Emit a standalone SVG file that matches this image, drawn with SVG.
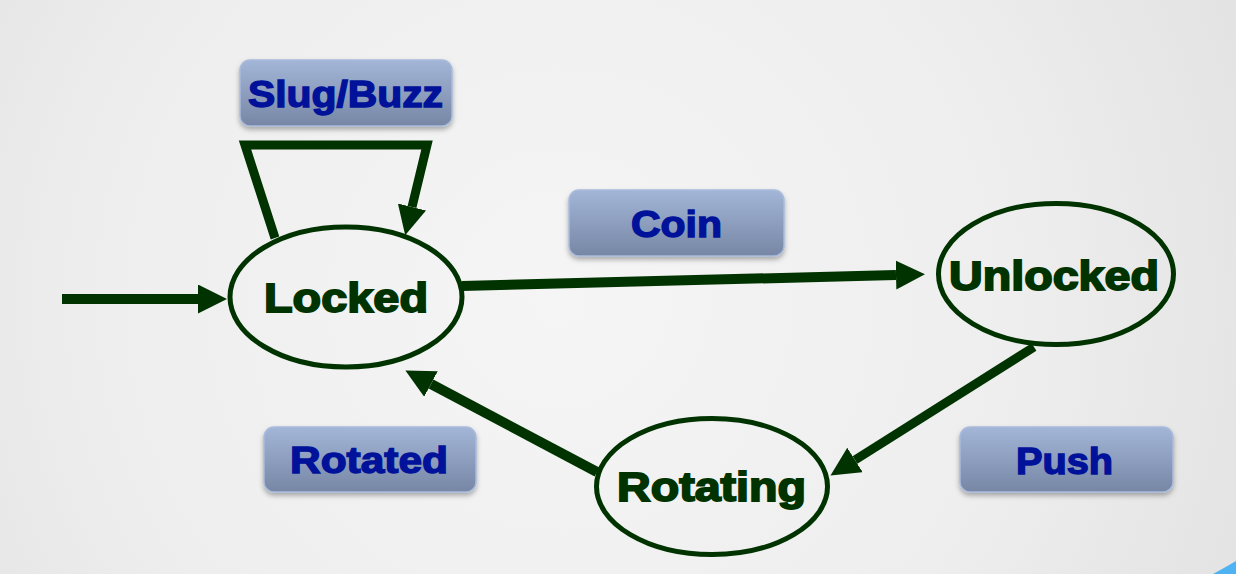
<svg xmlns="http://www.w3.org/2000/svg" width="1236" height="574" viewBox="0 0 1236 574">
<defs>
<radialGradient id="bg" cx="560" cy="300" r="760" gradientUnits="userSpaceOnUse">
<stop offset="0" stop-color="#f5f5f5"/>
<stop offset="0.6" stop-color="#eeeeee"/>
<stop offset="1" stop-color="#e2e2e2"/>
</radialGradient>
<linearGradient id="box" x1="0" y1="0" x2="0" y2="1">
<stop offset="0" stop-color="#a3b6d7"/>
<stop offset="1" stop-color="#7786a5"/>
</linearGradient>
<filter id="sh" x="-10%" y="-20%" width="120%" height="150%">
<feDropShadow dx="0" dy="3" stdDeviation="2.5" flood-color="#000" flood-opacity="0.3"/>
</filter>
<marker id="ah" markerUnits="userSpaceOnUse" markerWidth="30" markerHeight="30" refX="0" refY="14.5" orient="auto" viewBox="0 0 30 30">
<path d="M0,0 L29,14.5 L0,29 Z" fill="#003300"/>
</marker>
</defs>
<style>
.st{fill:none;stroke:#003300;stroke-width:5}
.ed{fill:none;stroke:#003300;stroke-linejoin:miter;stroke-miterlimit:10}
.bx{fill:url(#box);stroke:#a9bbdb;stroke-width:1.5;filter:url(#sh)}
.lb{font-family:"Liberation Sans",Arial,sans-serif;font-weight:bold;font-size:37px;fill:#00129a;stroke:#00129a;stroke-width:1.4;text-anchor:middle}
.nt{font-family:"Liberation Sans",Arial,sans-serif;font-weight:bold;font-size:40px;fill:#003300;stroke:#003300;stroke-width:1.8;text-anchor:middle}
</style>
<rect x="0" y="0" width="1236" height="574" fill="url(#bg)"/>
<path d="M1213,574 Q1226,567 1236,561 L1236,574 Z" fill="#4fb2f2"/>

<g id="connectors">
<path class="ed" stroke-width="10" d="M62,299 L198,299" marker-end="url(#ah)"/>
<path class="ed" stroke-width="10" d="M462,286 L896,275" marker-end="url(#ah)"/>
<path class="ed" stroke-width="9" d="M1034,347 L855,460" marker-end="url(#ah)"/>
<path class="ed" stroke-width="10" d="M597,472 L431,384" marker-end="url(#ah)"/>
<path class="ed" stroke-width="9" d="M275,238 L245,145 L427,145 L412,207" marker-end="url(#ah)"/>
</g>

<g id="locked">
<ellipse class="st" cx="346" cy="297" rx="116" ry="70"/>
<text class="nt" x="346" y="312" textLength="164" lengthAdjust="spacingAndGlyphs">Locked</text>
</g>
<g id="unlocked">
<ellipse class="st" cx="1056" cy="274" rx="117.5" ry="70.5"/>
<text class="nt" x="1054" y="290" font-size="43" textLength="210" lengthAdjust="spacingAndGlyphs">Unlocked</text>
</g>
<g id="rotating">
<ellipse class="st" cx="712" cy="486.5" rx="115.5" ry="68"/>
<text class="nt" x="711.5" y="501" textLength="189" lengthAdjust="spacingAndGlyphs">Rotating</text>
</g>

<g id="label-slugbuzz">
<rect class="bx" x="240" y="60" width="212" height="66" rx="10"/>
<text class="lb" x="345.5" y="107" textLength="195" lengthAdjust="spacingAndGlyphs">Slug/Buzz</text>
</g>
<g id="label-coin">
<rect class="bx" x="569" y="190" width="215" height="66" rx="10"/>
<text class="lb" x="676.5" y="237" textLength="91" lengthAdjust="spacingAndGlyphs">Coin</text>
</g>
<g id="label-rotated">
<rect class="bx" x="264" y="427" width="212" height="65" rx="10"/>
<text class="lb" x="369" y="473" textLength="158" lengthAdjust="spacingAndGlyphs">Rotated</text>
</g>
<g id="label-push">
<rect class="bx" x="960" y="427" width="213" height="65" rx="10"/>
<text class="lb" x="1064.5" y="474" textLength="97" lengthAdjust="spacingAndGlyphs">Push</text>
</g>
</svg>
